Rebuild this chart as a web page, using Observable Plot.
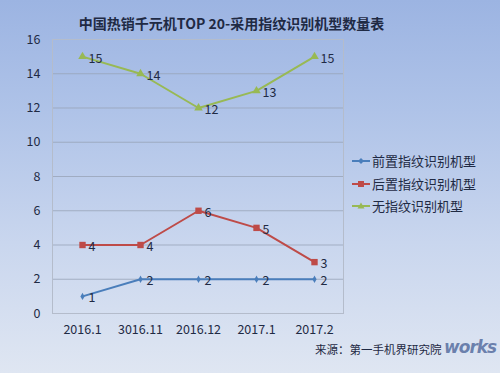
<!DOCTYPE html>
<html><head><meta charset="utf-8">
<script src="https://cdn.jsdelivr.net/npm/d3@7"></script>
<script src="https://cdn.jsdelivr.net/npm/@observablehq/plot@0.6"></script>
<style>
html,body{margin:0;padding:0;}
#wrap{position:relative;width:500px;height:373px;overflow:hidden;
 background:linear-gradient(180deg,#9cb4e2 0%,#afc3e8 30%,#c9d6ee 65%,#dfe6f2 100%);
 font-family:"Noto Sans CJK SC","Noto Sans",sans-serif;color:#1f2a44;}
#title{position:absolute;left:0;width:463px;top:13px;text-align:center;font-weight:bold;font-size:14px;color:#1f2a44;}
#legend{position:absolute;left:352px;top:150px;font-size:13px;line-height:22.5px;color:#1f2a44;}
#legend div{display:flex;align-items:center;}
#legend svg{margin-right:2px;}
#caption{position:absolute;left:315px;top:341px;font-size:11.5px;color:#1f2a44;}
#logo{position:absolute;left:444px;top:337px;font-size:17px;font-weight:bold;font-style:italic;color:rgba(70,95,150,0.75);font-family:"DejaVu Sans",sans-serif;letter-spacing:-1px;}
svg.plot{position:absolute;left:0;top:0;}
</style></head>
<body><div id="wrap">
<div id="title">中国热销千元机TOP 20-采用指纹识别机型数量表</div>
<div id="legend"></div>
<div id="caption">来源：第一手机界研究院</div>
<div id="logo">works</div>
</div>
<script>
const categories = ["2016.1","3016.11","2016.12","2017.1","2017.2"];
const seriesNames = ["前置指纹识别机型","后置指纹识别机型","无指纹识别机型"];
const frontValues = [1,2,2,2,2];
const rearValues = [4,4,6,5,3];
const noneValues = [15,14,12,13,15];
const yTicks = [0,2,4,6,8,10,12,14,16];

const colors = ["#4a7ebb","#be4b48","#98b954"];
const symbols = ["diamond","square","triangle"];
const sizes = [2.2,3.6,3.2];
const allValues = [frontValues, rearValues, noneValues];

const data = [];
seriesNames.forEach((s,i)=>allValues[i].forEach((v,j)=>data.push({series:s,cat:categories[j],value:v})));

const chart = Plot.plot({
  width:500, height:373,
  marginLeft:52, marginRight:157, marginTop:39, marginBottom:60,
  style:{background:"transparent",fontFamily:"'Noto Sans CJK SC','Noto Sans',sans-serif",fontSize:"12px",color:"#1f2a44"},
  x:{type:"band",domain:categories,padding:0,label:null},
  y:{domain:[0,16],label:null},
  marks:[
    Plot.gridY(yTicks,{stroke:"#98a4b8",strokeOpacity:0.8,strokeWidth:1}),
    Plot.frame({stroke:"#b4bccb",strokeWidth:1}),
    Plot.axisY(yTicks,{tickSize:0,tickPadding:12,fontSize:12.5,fill:"#1f2a44",label:null}),
    Plot.axisX({tickSize:0,tickPadding:12,fontSize:12.5,fill:"#1f2a44",label:null}),
    ...seriesNames.map((s,i)=>Plot.line(data.filter(d=>d.series===s),{x:"cat",y:"value",stroke:colors[i],strokeWidth:2})),
    ...seriesNames.map((s,i)=>Plot.dot(data.filter(d=>d.series===s),{x:"cat",y:"value",symbol:symbols[i],fill:colors[i],r:sizes[i],stroke:"none"})),
    Plot.text(data,{x:"cat",y:"value",text:d=>String(d.value),dx:6,dy:2,textAnchor:"start",fontSize:12.5,fill:"#1f2a44"})
  ]
});
chart.classList.add("plot");
document.getElementById("wrap").appendChild(chart);

const legend = document.getElementById("legend");
const shape = {
  diamond:'<path d="M9,3 L12,6 L9,9 L6,6Z"/>',
  square:'<rect x="6" y="3" width="6" height="6"/>',
  triangle:'<path d="M9,2.5 L12.5,8.5 L5.5,8.5Z"/>'
};
seriesNames.forEach((s,i)=>{
  const row=document.createElement("div");
  row.innerHTML=`<svg width="18" height="12"><line x1="0" x2="18" y1="6" y2="6" stroke="${colors[i]}" stroke-width="2"/><g fill="${colors[i]}">${shape[symbols[i]]}</g></svg><span>${s}</span>`;
  legend.appendChild(row);
});
</script>
</body></html>
